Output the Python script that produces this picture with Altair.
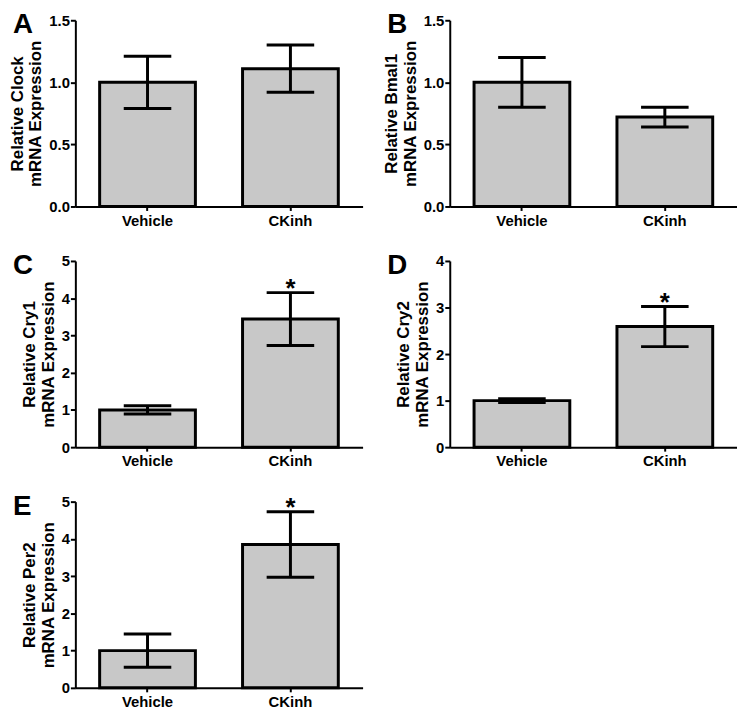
import altair as alt
import pandas as pd

# ---- data ----
letters = ["A", "B", "C", "D", "E"]
genes = ["Clock", "Bmal1", "Cry1", "Cry2", "Per2"]
groups = ["Vehicle", "CKinh"]
means = [
    [1.00, 1.11],
    [1.00, 0.72],
    [1.00, 3.44],
    [1.00, 2.59],
    [1.00, 3.85],
]
errs = [
    [0.21, 0.19],
    [0.20, 0.08],
    [0.11, 0.71],
    [0.04, 0.43],
    [0.445, 0.88],
]
stars = [
    ["", ""],
    ["", ""],
    ["", "*"],
    ["", "*"],
    ["", "*"],
]
ymax = [1.5, 1.5, 5, 4, 5]
yticks = [
    [0, 0.5, 1.0, 1.5],
    [0, 0.5, 1.0, 1.5],
    [0, 1, 2, 3, 4, 5],
    [0, 1, 2, 3, 4],
    [0, 1, 2, 3, 4, 5],
]
yformats = [".1f", ".1f", "d", "d", "d"]

W, H = 290, 188
FONT = "Liberation Sans"


def panel(i):
    df = pd.DataFrame({
        "group": groups,
        "mean": means[i],
        "err": errs[i],
        "star": stars[i],
    })
    df["lo"] = df["mean"] - df["err"]
    df["hi"] = df["mean"] + df["err"]
    base = alt.Chart(df)
    xaxis = alt.Axis(title=None, labelAngle=0, labelFontSize=15, tickSize=4,
                     labelPadding=3)
    xscale = alt.Scale(paddingInner=0.33, paddingOuter=0.17)
    yscale = alt.Scale(domain=[0, ymax[i]], nice=False, zero=True)
    yaxis = alt.Axis(
        title=["Relative " + genes[i], "mRNA Expression"],
        values=yticks[i], format=yformats[i],
        tickSize=5, labelPadding=1, titlePadding=4,
    )

    def X():
        return alt.X("group:N", sort=groups, scale=xscale, axis=xaxis)

    def Y(field):
        return alt.Y(field, scale=yscale, axis=yaxis)

    bars = base.mark_bar(fill="#c8c8c8", stroke="black", strokeWidth=3).encode(
        x=X(), y=Y("mean:Q")
    )
    rule = base.mark_rule(color="black", strokeWidth=3).encode(
        x=X(), y=Y("lo:Q"), y2="hi:Q"
    )
    caps = base.transform_fold(["lo", "hi"], as_=["k", "v"]).mark_tick(
        color="black", size=48, thickness=3, opacity=1
    ).encode(x=X(), y=Y("v:Q"))
    star = base.mark_text(
        fontSize=26, fontWeight="bold", font=FONT, baseline="alphabetic",
        dy=4, color="black"
    ).encode(x=X(), y=Y("hi:Q"), text="star:N")
    letter = alt.Chart(pd.DataFrame({"letter": [letters[i]]})).mark_text(
        fontSize=28, fontWeight="bold", font=FONT, align="left",
        baseline="alphabetic", color="black"
    ).encode(text="letter:N", x=alt.value(-63), y=alt.value(13))
    return alt.layer(bars, rule, caps, star, letter).properties(width=W, height=H)


chart = alt.concat(
    *[panel(i) for i in range(5)],
    columns=2,
    spacing={"row": 55, "column": 88},
).properties(
    bounds="flush",
    padding=0,
).configure_view(
    stroke=None
).configure_axis(
    grid=False,
    domainColor="black",
    domainWidth=2,
    tickColor="black",
    tickWidth=2,
    labelColor="black",
    labelFont=FONT,
    labelFontWeight="bold",
    labelFontSize=15,
    titleColor="black",
    titleFont=FONT,
    titleFontWeight="bold",
    titleFontSize=17,
    titleLineHeight=19,
)

chart.save("out.html", embed_options={"renderer": "svg", "actions": False})
